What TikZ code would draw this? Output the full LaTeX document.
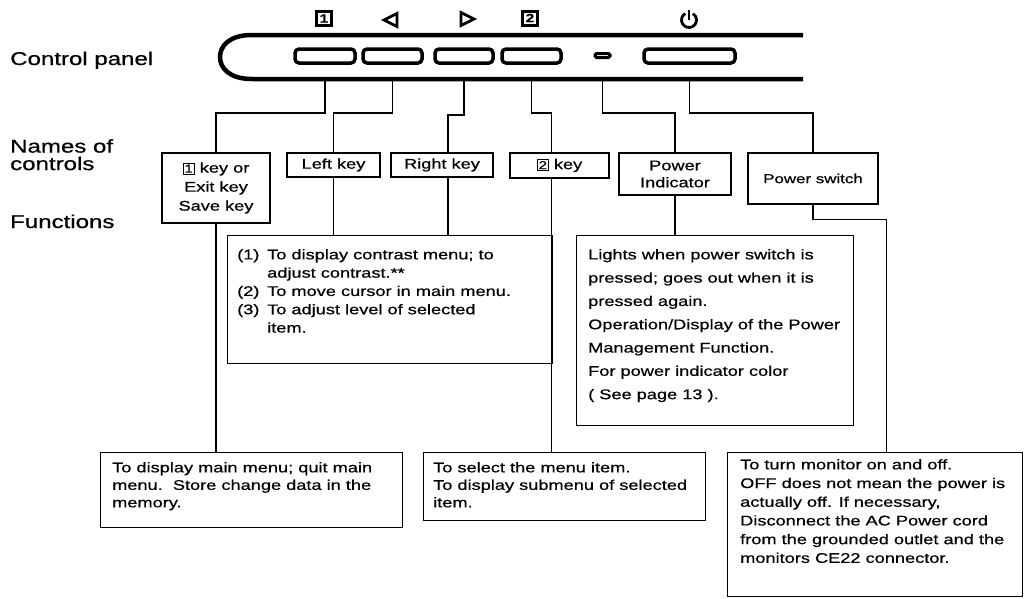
\documentclass[tikz,border=0pt]{standalone}
\usepackage{fontspec}
\setmainfont{Liberation Sans}[FakeStretch=1.3,FakeBold=0.6]
\usetikzlibrary{shapes.geometric}
\setlength{\fboxsep}{1pt}
\setlength{\fboxrule}{0.9pt}
\newcommand{\keysq}[1]{\fbox{\fontsize{11.5}{11.5}\selectfont #1}}

\begin{document}
\begin{tikzpicture}[x=1pt,y=-1pt,
  panel/.style={line width=4.5pt},
  btn/.style={draw,line width=3.5pt,rounded corners=4pt,minimum height=14pt,inner sep=0pt},
  icon/.style={line width=2.8pt},
  tri/.style={draw,isosceles triangle,isosceles triangle stretches,line width=2.8pt,minimum width=13pt,minimum height=13pt,inner sep=0pt},
  keyicon/.style={draw,line width=3pt,minimum width=15pt,minimum height=14pt,inner sep=0pt,font=\bfseries\fontsize{12}{12}\selectfont},
  namebox/.style={draw,line width=1.2pt,align=center,inner sep=0pt,font=\fontsize{14}{19}\selectfont},
  fnbox/.style={draw,line width=1.2pt,anchor=north west,inner sep=0pt},
  fntext/.style={anchor=north west,inner sep=0pt,align=left},
  lead/.style={line width=1.2pt},
  rowlabel/.style={anchor=base west,inner sep=0pt,font=\fontsize{18.5}{17.5}\selectfont}]
  \useasboundingbox (0,0) rectangle (1026,598);

  % row labels
  \node[rowlabel] (lcp) at (10,65) {Control panel};
  \node[rowlabel,anchor=north west,align=left] (lnc) at (10,139) {Names of\\controls};
  \node[rowlabel] (lfn) at (10,228) {Functions};

  % the panel
  \coordinate (pb) at (0,79);
  \draw[panel] (803,35) -- (252,35) .. controls (228,35) and (220,47) .. (220,57)
    .. controls (220,67) and (228,79) .. (252,79) -- (803,79);
  \node[btn,minimum width=60pt] (b1) at (325,56) {};
  \node[btn,minimum width=59pt] (b2) at (392.5,56) {};
  \node[btn,minimum width=58pt] (b3) at (464,56) {};
  \node[btn,minimum width=59pt] (b4) at (531.5,56) {};
  \node[btn,line width=3pt,rounded corners=1.5pt,minimum width=15pt,minimum height=4pt] (led) at (602.5,55.5) {};
  \node[btn,minimum width=91pt] (bp) at (689.5,56) {};

  % key marks above the panel
  \node[keyicon] (k1) at (324,18.5) {1};
  \node[tri,shape border rotate=180] (tl) at (393,20) {};
  \node[tri] (tr) at (465,19) {};
  \node[keyicon] (k2) at (530,18) {2};
  \draw[icon] ([shift={(120:7.5pt)}]689,20) arc[start angle=120,end angle=420,radius=7.5pt];
  \draw[icon] (689,10) -- (689,20);

  % names of controls
  \node[namebox,minimum width=108pt,minimum height=70pt] (n1) at (216,188) {\keysq{1} key or\\Exit key\\Save key};
  \node[namebox,minimum width=93pt,minimum height=24pt] (n2) at (333.5,165) {Left key};
  \node[namebox,minimum width=102pt,minimum height=24pt] (n3) at (442,165) {Right key};
  \node[namebox,minimum width=99pt,minimum height=25pt] (n4) at (559.5,165.5) {\keysq{2} key};
  \node[namebox,minimum width=112pt,minimum height=42pt,font=\fontsize{14}{17}\selectfont] (n5) at (675,174) {Power\\Indicator};
  \node[namebox,minimum width=130pt,minimum height=51pt,font=\fontsize{13}{16}\selectfont] (n6) at (813,178.5) {Power switch};

  % functions
  \node[fnbox,minimum width=325pt,minimum height=128pt] (fb) at (227,235) {};
  \node[fntext,font=\fontsize{14}{18.3}\selectfont] at ([shift={(10,14)}]fb.north west)
    {\makebox[30pt][l]{(1)}To display contrast menu; to\\
     \hspace*{30pt}adjust contrast.**\\
     \makebox[30pt][l]{(2)}To move cursor in main menu.\\
     \makebox[30pt][l]{(3)}To adjust level of selected\\
     \hspace*{30pt}item.};
  \node[fnbox,minimum width=277pt,minimum height=190pt] (fl) at (576,235) {};
  \node[fntext,font=\fontsize{14}{23.3}\selectfont] at ([shift={(12,14)}]fl.north west)
    {Lights when power switch is\\
     pressed; goes out when it is\\
     pressed again.\\
     Operation/Display of the Power\\
     Management Function.\\
     For power indicator color\\
     ( See page 13 ).};
  \node[fnbox,minimum width=302pt,minimum height=75pt] (fa) at (100,452) {};
  \node[fntext,font=\fontsize{14}{17.5}\selectfont] at ([shift={(12,10)}]fa.north west)
    {To display main menu; quit main\\
     menu.\ \ Store change data in the\\
     memory.};
  \node[fnbox,minimum width=282pt,minimum height=68pt] (fbb) at (423,452) {};
  \node[fntext,font=\fontsize{14}{17.5}\selectfont] at ([shift={(10,10)}]fbb.north west)
    {To select the menu item.\\
     To display submenu of selected\\
     item.};
  \node[fnbox,minimum width=295pt,minimum height=144pt] (fc) at (727,452) {};
  \node[fntext,font=\fontsize{14}{18.7}\selectfont] at ([shift={(13,7)}]fc.north west)
    {To turn monitor on and off.\\
     OFF does not mean the power is\\
     actually off. If necessary,\\
     Disconnect the AC Power cord\\
     from the grounded outlet and the\\
     monitors CE22 connector.};

  % leaders
  \coordinate (r3) at ([xshift=6pt]n3.south);
  \coordinate (r4) at ([xshift=-8pt]n4.south);
  \draw[lead] (b1 |- pb) -- ++(0,34) -| (n1.north);
  \draw[lead] (n1.south) -- (n1.south |- fa.north);
  \draw[lead] (b2 |- pb) -- ++(0,34) -| (n2.north);
  \draw[lead] (n2.south) -- (n2.south |- fb.north);
  \draw[lead] (b3 |- pb) -- ++(0,36) -| ([xshift=6pt]n3.north);
  \draw[lead] (r3) -- (r3 |- fb.north);
  \draw[lead] (b4 |- pb) -- ++(0,34) -| ([xshift=-8pt]n4.north);
  \draw[lead] (r4) -- (r4 |- fbb.north);
  \draw[lead] (led |- pb) -- ++(0,34) -| (n5.north);
  \draw[lead] (n5.south) -- (n5.south |- fl.north);
  \draw[lead] (bp |- pb) -- ++(0,34) -| (n6.north);
  \draw[lead] (n6.south) -- ++(0,15) -| ([xshift=11pt]fc.north);
\end{tikzpicture}
\end{document}
